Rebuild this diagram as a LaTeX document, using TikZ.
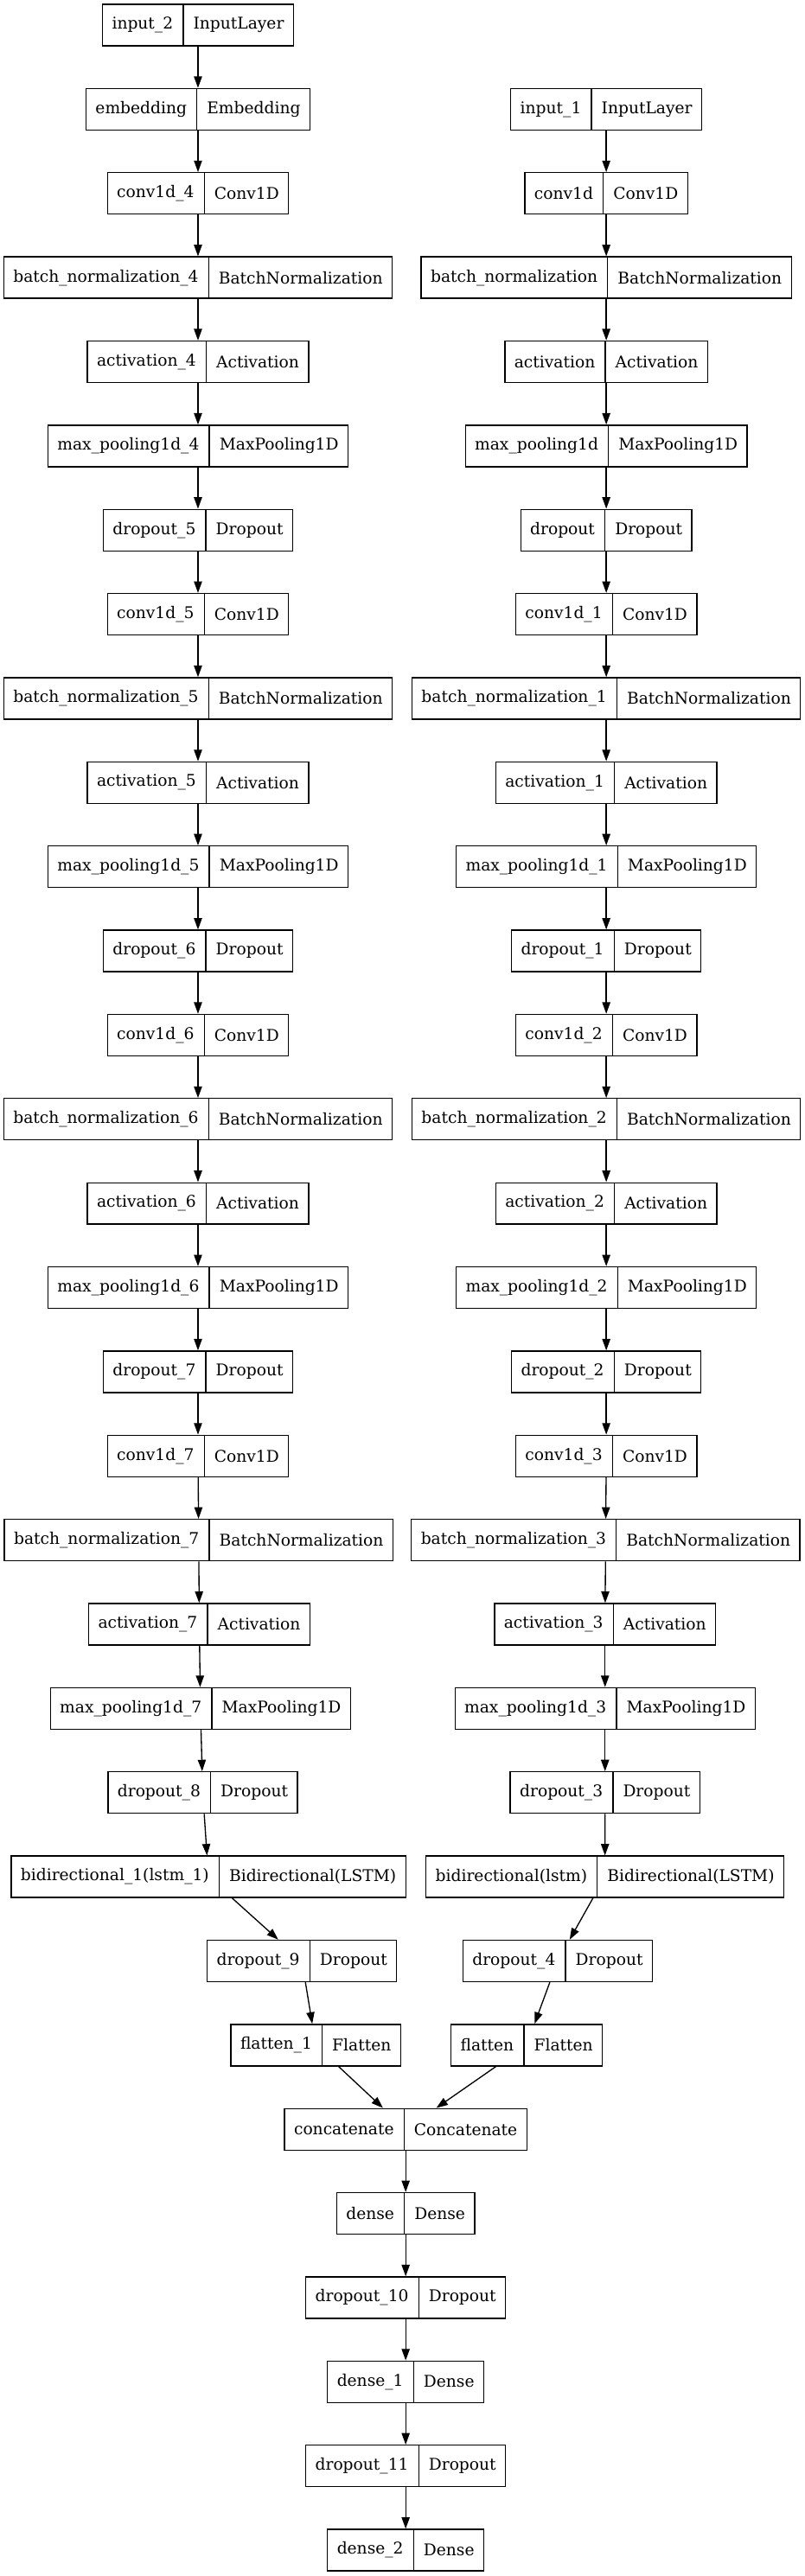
\documentclass[tikz,border=0pt]{standalone}
\usepackage{fontspec}
\newfontfamily\layerfont{DejaVu Serif}
\usetikzlibrary{arrows.meta,shapes.multipart}

\begin{document}
\begin{tikzpicture}[->,>={Triangle[length=10pt,width=7pt]},line width=1pt,x=0.75pt,y=-73.03pt,
  layer/.style={rectangle split,rectangle split horizontal,rectangle split parts=2,draw,
    minimum height=36pt,inner xsep=8.25pt,inner ysep=0pt,font=\layerfont\fontsize{14}{16}\selectfont}]
\useasboundingbox (0,-0.298) rectangle (931,30.308);
% left branch
\node[layer] (in2) at (229,0) {input\_2 \nodepart{two} InputLayer};
\node[layer] (emb) at (229,1) {embedding \nodepart{two} Embedding};
\node[layer] (c4) at (229,2) {conv1d\_4 \nodepart{two} Conv1D};
\node[layer] (bn4) at (229,3) {batch\_normalization\_4 \nodepart{two} BatchNormalization};
\node[layer] (a4) at (229,4) {activation\_4 \nodepart{two} Activation};
\node[layer] (mp4) at (229,5) {max\_pooling1d\_4 \nodepart{two} MaxPooling1D};
\node[layer] (d5) at (229,6) {dropout\_5 \nodepart{two} Dropout};
\node[layer] (c5) at (229,7) {conv1d\_5 \nodepart{two} Conv1D};
\node[layer] (bn5) at (229,8) {batch\_normalization\_5 \nodepart{two} BatchNormalization};
\node[layer] (a5) at (229,9) {activation\_5 \nodepart{two} Activation};
\node[layer] (mp5) at (229,10) {max\_pooling1d\_5 \nodepart{two} MaxPooling1D};
\node[layer] (d6) at (229,11) {dropout\_6 \nodepart{two} Dropout};
\node[layer] (c6) at (229,12) {conv1d\_6 \nodepart{two} Conv1D};
\node[layer] (bn6) at (229,13) {batch\_normalization\_6 \nodepart{two} BatchNormalization};
\node[layer] (a6) at (229,14) {activation\_6 \nodepart{two} Activation};
\node[layer] (mp6) at (229,15) {max\_pooling1d\_6 \nodepart{two} MaxPooling1D};
\node[layer] (d7) at (229,16) {dropout\_7 \nodepart{two} Dropout};
\node[layer] (c7) at (229,17) {conv1d\_7 \nodepart{two} Conv1D};
\node[layer] (bn7) at (229.8,18) {batch\_normalization\_7 \nodepart{two} BatchNormalization};
\node[layer] (a7) at (230.5,19) {activation\_7 \nodepart{two} Activation};
\node[layer] (mp7) at (231.8,20) {max\_pooling1d\_7 \nodepart{two} MaxPooling1D};
\node[layer] (d8) at (234.5,21) {dropout\_8 \nodepart{two} Dropout};
\node[layer] (bi1) at (241.1,22) {bidirectional\_1(lstm\_1) \nodepart{two} Bidirectional(LSTM)};
\node[layer] (d9) at (349.2,23) {dropout\_9 \nodepart{two} Dropout};
\node[layer] (fl1) at (365.2,24) {flatten\_1 \nodepart{two} Flatten};
% right branch
\node[layer] (in1) at (701.2,1) {input\_1 \nodepart{two} InputLayer};
\node[layer] (c0) at (701.2,2) {conv1d \nodepart{two} Conv1D};
\node[layer] (bn0) at (701.2,3) {batch\_normalization \nodepart{two} BatchNormalization};
\node[layer] (a0) at (701.2,4) {activation \nodepart{two} Activation};
\node[layer] (mp0) at (701.2,5) {max\_pooling1d \nodepart{two} MaxPooling1D};
\node[layer] (d0) at (701.2,6) {dropout \nodepart{two} Dropout};
\node[layer] (c1) at (701.2,7) {conv1d\_1 \nodepart{two} Conv1D};
\node[layer] (bn1) at (701.2,8) {batch\_normalization\_1 \nodepart{two} BatchNormalization};
\node[layer] (a1) at (701.2,9) {activation\_1 \nodepart{two} Activation};
\node[layer] (mp1) at (701.2,10) {max\_pooling1d\_1 \nodepart{two} MaxPooling1D};
\node[layer] (d1) at (701.2,11) {dropout\_1 \nodepart{two} Dropout};
\node[layer] (c2) at (701.2,12) {conv1d\_2 \nodepart{two} Conv1D};
\node[layer] (bn2) at (701.2,13) {batch\_normalization\_2 \nodepart{two} BatchNormalization};
\node[layer] (a2) at (701.2,14) {activation\_2 \nodepart{two} Activation};
\node[layer] (mp2) at (701.2,15) {max\_pooling1d\_2 \nodepart{two} MaxPooling1D};
\node[layer] (d2) at (701.2,16) {dropout\_2 \nodepart{two} Dropout};
\node[layer] (c3) at (701.2,17) {conv1d\_3 \nodepart{two} Conv1D};
\node[layer] (bn3) at (700.5,18) {batch\_normalization\_3 \nodepart{two} BatchNormalization};
\node[layer] (a3) at (699.8,19) {activation\_3 \nodepart{two} Activation};
\node[layer] (mp3) at (699.8,20) {max\_pooling1d\_3 \nodepart{two} MaxPooling1D};
\node[layer] (d3) at (699.8,21) {dropout\_3 \nodepart{two} Dropout};
\node[layer] (bi) at (699.7,22) {bidirectional(lstm) \nodepart{two} Bidirectional(LSTM)};
\node[layer] (d4) at (645,23) {dropout\_4 \nodepart{two} Dropout};
\node[layer] (fl) at (609.2,24) {flatten \nodepart{two} Flatten};
% merged head
\node[layer] (cat) at (469.2,25) {concatenate \nodepart{two} Concatenate};
\node[layer] (dn) at (469.2,26) {dense \nodepart{two} Dense};
\node[layer] (d10) at (469.2,27) {dropout\_10 \nodepart{two} Dropout};
\node[layer] (dn1) at (469.2,28) {dense\_1 \nodepart{two} Dense};
\node[layer] (d11) at (469.2,29) {dropout\_11 \nodepart{two} Dropout};
\node[layer] (dn2) at (469.2,30) {dense\_2 \nodepart{two} Dense};
\draw (in2) -- (emb);
\draw (emb) -- (c4);
\draw (c4) -- (bn4);
\draw (bn4) -- (a4);
\draw (a4) -- (mp4);
\draw (mp4) -- (d5);
\draw (d5) -- (c5);
\draw (c5) -- (bn5);
\draw (bn5) -- (a5);
\draw (a5) -- (mp5);
\draw (mp5) -- (d6);
\draw (d6) -- (c6);
\draw (c6) -- (bn6);
\draw (bn6) -- (a6);
\draw (a6) -- (mp6);
\draw (mp6) -- (d7);
\draw (d7) -- (c7);
\draw (c7) -- (bn7);
\draw (bn7) -- (a7);
\draw (a7) -- (mp7);
\draw (mp7) -- (d8);
\draw (d8) -- (bi1);
\draw (bi1) -- (d9);
\draw (d9) -- (fl1);
\draw (in1) -- (c0);
\draw (c0) -- (bn0);
\draw (bn0) -- (a0);
\draw (a0) -- (mp0);
\draw (mp0) -- (d0);
\draw (d0) -- (c1);
\draw (c1) -- (bn1);
\draw (bn1) -- (a1);
\draw (a1) -- (mp1);
\draw (mp1) -- (d1);
\draw (d1) -- (c2);
\draw (c2) -- (bn2);
\draw (bn2) -- (a2);
\draw (a2) -- (mp2);
\draw (mp2) -- (d2);
\draw (d2) -- (c3);
\draw (c3) -- (bn3);
\draw (bn3) -- (a3);
\draw (a3) -- (mp3);
\draw (mp3) -- (d3);
\draw (d3) -- (bi);
\draw (bi) -- (d4);
\draw (d4) -- (fl);
\draw (fl1) -- (cat);
\draw (fl) -- (cat);
\draw (cat) -- (dn);
\draw (dn) -- (d10);
\draw (d10) -- (dn1);
\draw (dn1) -- (d11);
\draw (d11) -- (dn2);
\end{tikzpicture}
\end{document}
